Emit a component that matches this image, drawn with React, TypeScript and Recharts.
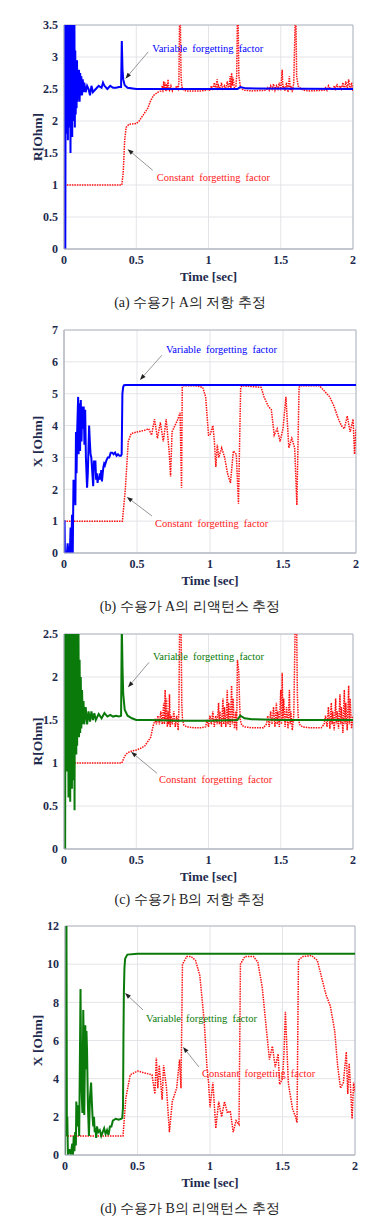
import React from 'react';
import { LineChart, Line, XAxis, YAxis, CartesianGrid, ReferenceLine, ReferenceArea } from 'recharts';

// ---------- shared ----------
const xTicks = [0, 0.5, 1, 1.5, 2];
const xTickLabels = ['0', '0.5', '1', '1.5', '2'];

// ---------- (a) customer A resistance ----------
const aTicks = [0, 0.5, 1, 1.5, 2, 2.5, 3, 3.5];
const aVariable: number[][] = [
  [0, 0], [0.003, 3.6], [0.006, 0], [0.009, 0], [0.012, 3.6], [0.015, 1.8], [0.018, 3.2], [0.021, 2.0],
  [0.024, 3.6], [0.027, 1.7], [0.03, 3.2], [0.033, 2.2], [0.036, 3.6], [0.039, 1.9], [0.042, 3.4],
  [0.045, 1.5], [0.048, 3.6], [0.051, 2.1], [0.054, 3.3], [0.057, 1.75], [0.06, 3.6], [0.063, 2.0],
  [0.066, 3.0], [0.069, 2.2], [0.072, 3.6], [0.075, 1.9], [0.078, 3.1], [0.081, 2.1], [0.084, 2.9],
  [0.087, 2.2], [0.09, 2.95], [0.093, 2.3], [0.096, 2.8], [0.1, 2.35], [0.104, 2.8], [0.108, 2.3],
  [0.112, 2.75], [0.116, 2.4], [0.12, 2.7], [0.125, 2.4], [0.13, 2.65], [0.135, 2.45], [0.14, 2.6],
  [0.15, 2.45], [0.16, 2.55], [0.17, 2.5], [0.18, 2.4], [0.19, 2.55], [0.2, 2.45], [0.22, 2.5],
  [0.24, 2.55], [0.26, 2.52], [0.27, 2.6], [0.28, 2.55], [0.3, 2.5], [0.32, 2.55], [0.34, 2.52],
  [0.36, 2.52], [0.38, 2.53], [0.395, 2.53], [0.4, 3.25], [0.405, 2.8], [0.41, 2.65], [0.42, 2.56],
  [0.44, 2.52], [0.5, 2.5], [1.2, 2.5], [1.22, 2.53], [1.26, 2.51], [2, 2.5],
];
const aConstant: number[][] = [
  [0.02, 1.0], [0.4, 1.0], [0.41, 1.2], [0.42, 1.7], [0.43, 1.9], [0.45, 1.95], [0.5, 1.96], [0.52, 2.0],
  [0.55, 2.1], [0.58, 2.2], [0.6, 2.32], [0.62, 2.4], [0.65, 2.45], [0.67, 2.47], [0.68, 2.55],
  [0.685, 2.45], [0.69, 2.62], [0.695, 2.5], [0.7, 2.6], [0.705, 2.46], [0.71, 2.58], [0.715, 2.48],
  [0.72, 2.65], [0.725, 2.5], [0.73, 2.48], [0.74, 2.55], [0.75, 2.47], [0.76, 2.52], [0.77, 2.5],
  [0.78, 2.55], [0.79, 2.5], [0.795, 2.6], [0.8, 3.6], [0.805, 3.6], [0.81, 2.7], [0.815, 2.55],
  [0.82, 2.5], [0.83, 2.48], [0.85, 2.47], [0.9, 2.47], [0.95, 2.47], [0.98, 2.48], [1.0, 2.5],
  [1.01, 2.47], [1.02, 2.55], [1.03, 2.48], [1.04, 2.6], [1.05, 2.5], [1.06, 2.65], [1.065, 2.48],
  [1.07, 2.55], [1.08, 2.5], [1.09, 2.6], [1.1, 2.48], [1.11, 2.55], [1.12, 2.5], [1.13, 2.62],
  [1.14, 2.48], [1.15, 2.7], [1.155, 2.5], [1.16, 2.75], [1.165, 2.55], [1.17, 2.68], [1.18, 2.5],
  [1.19, 2.55], [1.195, 2.7], [1.2, 3.6], [1.205, 3.6], [1.21, 2.7], [1.22, 2.55], [1.23, 2.5],
  [1.25, 2.48], [1.3, 2.47], [1.4, 2.48], [1.41, 2.52], [1.42, 2.48], [1.43, 2.55], [1.44, 2.5],
  [1.45, 2.58], [1.46, 2.48], [1.47, 2.55], [1.48, 2.5], [1.49, 2.6], [1.5, 2.48], [1.51, 2.8],
  [1.515, 2.5], [1.52, 2.55], [1.53, 2.47], [1.54, 2.6], [1.55, 2.45], [1.56, 2.7], [1.565, 2.48],
  [1.57, 2.55], [1.58, 2.45], [1.59, 2.6], [1.6, 3.6], [1.605, 3.6], [1.61, 2.7], [1.62, 2.55],
  [1.64, 2.5], [1.66, 2.48], [1.7, 2.47], [1.8, 2.48], [1.81, 2.52], [1.82, 2.48], [1.83, 2.55],
  [1.84, 2.5], [1.85, 2.52], [1.86, 2.48], [1.87, 2.55], [1.88, 2.5], [1.89, 2.58], [1.9, 2.48],
  [1.91, 2.55], [1.92, 2.5], [1.93, 2.6], [1.94, 2.48], [1.95, 2.62], [1.96, 2.5], [1.97, 2.65],
  [1.98, 2.48], [1.99, 2.6], [2.0, 2.47],
];

// ---------- (b) customer A reactance ----------
const bTicks = [0, 1, 2, 3, 4, 5, 6, 7];
const bVariable: number[][] = [
  [0, 1.0], [0.004, 1.0], [0.006, 0], [0.02, 0], [0.025, 0.3], [0.03, 0], [0.035, 0.2], [0.04, 0],
  [0.045, 0.8], [0.05, 0], [0.055, 1.2], [0.06, 0], [0.065, 2.3], [0.07, 1.6], [0.075, 2.3],
  [0.078, 1.5], [0.082, 3.8], [0.086, 2.5], [0.09, 3.8], [0.097, 4.9], [0.1, 3.1], [0.105, 4.7],
  [0.11, 3.2], [0.115, 4.8], [0.12, 3.5], [0.125, 4.6], [0.13, 3.9], [0.135, 4.6], [0.14, 3.4],
  [0.145, 4.5], [0.15, 3.0], [0.158, 2.05], [0.163, 2.5], [0.172, 4.0], [0.177, 3.5], [0.182, 3.1],
  [0.187, 3.0], [0.2, 2.1], [0.205, 2.9], [0.21, 2.6], [0.215, 2.9], [0.22, 2.3], [0.225, 2.5],
  [0.23, 2.2], [0.235, 2.4], [0.24, 2.3], [0.245, 2.5], [0.25, 2.3], [0.255, 2.6], [0.26, 2.25],
  [0.265, 2.5], [0.27, 2.7], [0.275, 2.8], [0.28, 2.75], [0.29, 2.9], [0.3, 3.0], [0.31, 3.0],
  [0.32, 3.15], [0.33, 3.15], [0.34, 3.1], [0.35, 3.15], [0.36, 3.05], [0.37, 3.1], [0.38, 3.05],
  [0.39, 3.05], [0.395, 3.1], [0.4, 5.0], [0.405, 5.2], [0.41, 5.26], [0.42, 5.27], [2.0, 5.27],
];
const bConstant: number[][] = [
  [0, 1.0], [0.4, 1.0], [0.42, 2.0], [0.44, 3.5], [0.46, 3.75], [0.5, 3.8], [0.55, 3.85], [0.58, 3.9],
  [0.6, 3.7], [0.62, 4.2], [0.64, 3.6], [0.66, 4.1], [0.68, 3.5], [0.7, 4.2], [0.72, 3.2], [0.73, 2.4],
  [0.74, 3.8], [0.76, 4.0], [0.78, 4.2], [0.795, 4.4], [0.805, 2.05], [0.81, 5.2], [0.82, 5.25],
  [0.9, 5.25], [0.95, 5.2], [0.97, 4.9], [0.98, 4.3], [0.99, 3.7], [1.0, 3.7], [1.02, 4.0], [1.03, 3.5],
  [1.04, 2.7], [1.05, 3.4], [1.06, 3.0], [1.08, 3.3], [1.1, 3.0], [1.12, 2.5], [1.14, 2.2], [1.16, 3.2],
  [1.18, 3.1], [1.195, 1.55], [1.21, 5.2], [1.22, 5.25], [1.35, 5.2], [1.37, 4.9], [1.4, 4.6],
  [1.42, 4.5], [1.44, 3.7], [1.46, 3.9], [1.48, 3.5], [1.5, 3.9], [1.52, 4.9], [1.54, 3.3], [1.56, 3.6],
  [1.58, 3.3], [1.595, 1.5], [1.61, 5.2], [1.62, 5.25], [1.75, 5.25], [1.78, 5.1], [1.82, 4.9],
  [1.85, 4.6], [1.88, 4.2], [1.9, 4.0], [1.92, 3.9], [1.94, 4.3], [1.96, 3.8], [1.98, 4.2], [1.99, 3.1],
  [2.0, 3.9],
];

// ---------- (c) customer B resistance ----------
const cTicks = [0, 0.5, 1, 1.5, 2, 2.5];
const cVariable: number[][] = [
  [0, 2.6], [0.004, 0], [0.008, 0], [0.01, 2.6], [0.013, 1.0], [0.016, 2.4], [0.019, 0.9], [0.022, 2.6],
  [0.025, 1.2], [0.028, 2.2], [0.031, 0.6], [0.034, 2.6], [0.037, 1.1], [0.04, 2.3], [0.043, 0.55],
  [0.046, 2.6], [0.049, 0.9], [0.052, 2.5], [0.055, 0.7], [0.058, 2.6], [0.061, 1.0], [0.064, 2.6],
  [0.067, 0.8], [0.07, 2.3], [0.073, 0.45], [0.076, 2.6], [0.079, 1.2], [0.082, 2.4], [0.085, 1.1],
  [0.088, 2.6], [0.091, 1.2], [0.094, 2.3], [0.097, 1.3], [0.1, 2.6], [0.104, 1.3], [0.108, 2.2],
  [0.112, 1.35], [0.116, 2.0], [0.12, 1.4], [0.125, 1.85], [0.13, 1.45], [0.135, 1.72], [0.14, 1.45],
  [0.15, 1.65], [0.16, 1.45], [0.17, 1.6], [0.18, 1.48], [0.19, 1.6], [0.2, 1.5], [0.21, 1.58],
  [0.22, 1.5], [0.24, 1.57], [0.26, 1.52], [0.28, 1.58], [0.3, 1.54], [0.32, 1.56], [0.34, 1.54],
  [0.36, 1.55], [0.38, 1.54], [0.395, 1.55], [0.4, 2.6], [0.405, 2.1], [0.41, 1.8], [0.42, 1.62],
  [0.44, 1.55], [0.47, 1.52], [0.5, 1.5], [0.6, 1.5], [0.8, 1.49], [1.0, 1.49], [1.2, 1.5],
  [1.22, 1.55], [1.25, 1.52], [1.3, 1.51], [1.5, 1.5], [2.0, 1.5],
];
const cConstant: number[][] = [
  [0.02, 1.0], [0.4, 1.0], [0.42, 1.08], [0.44, 1.12], [0.47, 1.14], [0.5, 1.15], [0.53, 1.17],
  [0.56, 1.2], [0.58, 1.25], [0.6, 1.3], [0.61, 1.38], [0.62, 1.45], [0.63, 1.5], [0.64, 1.45],
  [0.65, 1.55], [0.66, 1.45], [0.67, 1.6], [0.68, 1.45], [0.69, 1.7], [0.695, 1.45], [0.7, 1.85],
  [0.705, 1.5], [0.71, 1.75], [0.715, 1.42], [0.72, 1.6], [0.725, 1.45], [0.73, 1.8], [0.735, 1.42],
  [0.74, 1.55], [0.75, 1.45], [0.76, 1.6], [0.77, 1.42], [0.78, 1.55], [0.79, 1.38], [0.795, 1.6],
  [0.8, 2.6], [0.81, 2.6], [0.815, 1.7], [0.82, 1.5], [0.83, 1.44], [0.85, 1.42], [0.9, 1.41],
  [0.95, 1.41], [0.98, 1.42], [0.99, 1.5], [1.0, 1.42], [1.01, 1.55], [1.02, 1.45], [1.03, 1.6],
  [1.04, 1.42], [1.05, 1.55], [1.06, 1.45], [1.07, 1.7], [1.075, 1.45], [1.08, 1.6], [1.09, 1.42],
  [1.1, 1.75], [1.105, 1.45], [1.11, 1.65], [1.12, 1.42], [1.13, 1.85], [1.135, 1.45], [1.14, 1.7],
  [1.15, 1.42], [1.16, 1.9], [1.165, 1.45], [1.17, 1.75], [1.18, 1.4], [1.19, 1.6], [1.195, 1.38],
  [1.2, 2.2], [1.21, 2.05], [1.215, 1.7], [1.22, 1.5], [1.23, 1.44], [1.25, 1.42], [1.3, 1.41],
  [1.38, 1.41], [1.4, 1.45], [1.41, 1.55], [1.42, 1.42], [1.43, 1.6], [1.44, 1.45], [1.45, 1.65],
  [1.46, 1.42], [1.47, 1.7], [1.475, 1.45], [1.48, 1.6], [1.49, 1.42], [1.5, 1.85], [1.505, 1.45],
  [1.51, 2.05], [1.515, 1.5], [1.52, 1.75], [1.53, 1.42], [1.54, 1.65], [1.55, 1.4], [1.56, 1.85],
  [1.565, 1.45], [1.57, 1.6], [1.58, 1.38], [1.59, 1.55], [1.6, 2.6], [1.61, 2.6], [1.615, 1.8],
  [1.62, 1.55], [1.63, 1.45], [1.65, 1.42], [1.7, 1.41], [1.78, 1.41], [1.8, 1.45], [1.81, 1.55],
  [1.82, 1.42], [1.83, 1.65], [1.84, 1.4], [1.85, 1.7], [1.855, 1.45], [1.86, 1.6], [1.87, 1.38],
  [1.88, 1.75], [1.885, 1.45], [1.89, 1.6], [1.9, 1.4], [1.91, 1.8], [1.915, 1.45], [1.92, 1.65],
  [1.93, 1.35], [1.94, 1.85], [1.945, 1.45], [1.95, 1.7], [1.96, 1.38], [1.97, 1.9], [1.975, 1.45],
  [1.98, 1.75], [1.99, 1.4], [2.0, 1.55],
];

// ---------- (d) customer B reactance ----------
const dTicks = [0, 2, 4, 6, 8, 10, 12];
const dVariable: number[][] = [
  [0, 0], [0.005, 12.5], [0.01, 12.5], [0.013, 1.0], [0.016, 2], [0.02, 0], [0.03, 0.3], [0.04, 0],
  [0.05, 0.6], [0.055, 0], [0.06, 1.0], [0.065, 0.2], [0.07, 1.2], [0.075, 0.5], [0.078, 2.8],
  [0.085, 1.5], [0.09, 2.6], [0.098, 1.0], [0.107, 8.7], [0.112, 4.0], [0.116, 3.0], [0.12, 2.2],
  [0.126, 7.6], [0.13, 5.5], [0.133, 2.1], [0.14, 6.8], [0.145, 4.5], [0.148, 6.5], [0.152, 5.5],
  [0.158, 2.6], [0.165, 1.0], [0.172, 3.0], [0.18, 3.8], [0.185, 2.8], [0.19, 2.0], [0.195, 1.5],
  [0.2, 2.0], [0.205, 1.2], [0.21, 1.4], [0.215, 0.9], [0.22, 1.5], [0.23, 1.2], [0.24, 1.3],
  [0.25, 1.0], [0.26, 1.2], [0.27, 1.4], [0.28, 1.1], [0.29, 1.3], [0.3, 1.05], [0.31, 1.5],
  [0.32, 1.5], [0.33, 1.8], [0.35, 1.9], [0.37, 1.85], [0.39, 1.9], [0.395, 1.95], [0.4, 2.5],
  [0.403, 6.0], [0.406, 8.5], [0.41, 9.8], [0.415, 10.3], [0.43, 10.5], [0.5, 10.55], [2.0, 10.55],
];
const dConstant: number[][] = [
  [0, 1.0], [0.4, 1.0], [0.42, 3.0], [0.45, 4.2], [0.5, 4.4], [0.55, 4.3], [0.6, 4.2], [0.62, 3.2],
  [0.63, 5.1], [0.64, 3.5], [0.65, 4.7], [0.67, 2.9], [0.68, 4.7], [0.7, 3.5], [0.72, 1.2], [0.74, 2.8],
  [0.77, 3.5], [0.79, 5.0], [0.8, 3.5], [0.81, 10.0], [0.84, 10.4], [0.87, 10.4], [0.9, 10.2],
  [0.93, 9.4], [0.96, 7.0], [0.98, 4.5], [0.99, 3.8], [1.0, 2.5], [1.02, 3.8], [1.04, 1.4], [1.06, 2.8],
  [1.08, 2.0], [1.1, 2.8], [1.12, 2.2], [1.14, 2.3], [1.16, 1.2], [1.18, 1.8], [1.2, 1.6], [1.21, 10.0],
  [1.24, 10.4], [1.3, 10.4], [1.33, 10.1], [1.36, 8.8], [1.39, 6.5], [1.41, 5.0], [1.43, 5.7],
  [1.45, 4.6], [1.47, 5.3], [1.48, 3.7], [1.5, 4.0], [1.51, 5.3], [1.52, 7.5], [1.54, 3.8], [1.55, 3.3],
  [1.57, 2.4], [1.59, 2.0], [1.6, 1.7], [1.61, 10.2], [1.64, 10.4], [1.7, 10.45], [1.74, 10.2],
  [1.77, 9.3], [1.8, 8.4], [1.83, 7.8], [1.86, 6.5], [1.88, 4.7], [1.9, 3.5], [1.92, 3.8], [1.94, 5.4],
  [1.95, 3.2], [1.96, 4.8], [1.97, 3.4], [1.98, 1.9], [1.99, 3.8], [2.0, 3.3],
];

// ---------- labels ----------
const variableLabel = 'Variable forgetting factor';
const constantLabel = 'Constant forgetting factor';
const captions = ['(a) 수용가 A의 저항 추정', '(b) 수용가 A의 리액턴스 추정', '(c) 수용가 B의 저항 추정', '(d) 수용가 B의 리액턴스 추정'];

const toPts = (arr: number[][]) => arr.map(([t, v]) => ({ t, v }));

const NAVY = '#1e2a4e';
const SERIF = '"Liberation Serif", "Times New Roman", serif';

type Ann = { from: [number, number]; to: [number, number]; text: string; color: string; dx: number; dy: number };

const arrowShape = (a: Ann) => (props: any) => {
  const { x1, y1, x2, y2 } = props;
  if ([x1, y1, x2, y2].some((v) => typeof v !== 'number' || isNaN(v))) return <g />;
  const ang = Math.atan2(y2 - y1, x2 - x1);
  const L = 6, W = 2.2;
  const bx = x2 - L * Math.cos(ang), by = y2 - L * Math.sin(ang);
  const p1 = `${x2},${y2}`;
  const p2 = `${bx + W * Math.sin(ang)},${by - W * Math.cos(ang)}`;
  const p3 = `${bx - W * Math.sin(ang)},${by + W * Math.cos(ang)}`;
  return (
    <g>
      <line x1={x1} y1={y1} x2={bx} y2={by} stroke="#8a8a8a" strokeWidth={0.9} />
      <polygon points={`${p1} ${p2} ${p3}`} fill="#222" />
      <text x={x1 + a.dx} y={y1 + a.dy} fill={a.color} fontFamily={SERIF} fontSize={10.5} style={{ wordSpacing: 2.5 }}>
        {a.text}
      </text>
    </g>
  );
};

const YLab = (text: string) => (props: any) => {
  const vb = props.viewBox || {};
  const cx = (vb.x || 0) + 37;
  const cy = (vb.y || 0) + (vb.height || 0) / 2;
  return (
    <text x={cx} y={cy} transform={`rotate(-90 ${cx} ${cy})`} textAnchor="middle" dominantBaseline="central" fill={NAVY} fontFamily={SERIF} fontWeight="bold" fontSize={13.5}>
      {text}
    </text>
  );
};

const XLab = (props: any) => {
  const vb = props.viewBox || {};
  const cx = (vb.x || 0) + (vb.width || 0) / 2;
  const cy = (vb.y || 0) + 27;
  return (
    <text x={cx} y={cy} textAnchor="middle" dominantBaseline="central" fill={NAVY} fontFamily={SERIF} fontWeight="bold" fontSize={13}>
      Time [sec]
    </text>
  );
};

type PanelProps = {
  top: number; marginTop: number; plotH: number; yWidth: number; marginRight: number;
  yMax: number; yTicks: number[]; yLabel: string;
  variable: number[][]; constant: number[][]; varColor: string; anns: Ann[];
};

const Panel = (p: PanelProps) => {
  const height = p.marginTop + p.plotH + 40;
  const tickStyle = { fill: NAVY, fontFamily: SERIF, fontWeight: 'bold' as const, fontSize: 12 };
  return (
    <div style={{ position: 'absolute', left: 0, top: p.top, width: 376, height }}>
      <LineChart width={376} height={height} margin={{ top: p.marginTop, right: p.marginRight, bottom: 0, left: 0 }}>
        <CartesianGrid stroke="#e4e4e8" strokeWidth={1} />
        <XAxis
          dataKey="t" type="number" domain={[0, 2]} ticks={xTicks} tickFormatter={(v: number) => xTickLabels[xTicks.indexOf(v)] ?? String(v)}
          allowDataOverflow height={40} tickLine={false} tickSize={0} tickMargin={6} axisLine={{ stroke: '#b4b8c4' }}
          tick={tickStyle} interval={0} label={XLab}
        />
        <YAxis
          dataKey="v" type="number" domain={[0, p.yMax]} ticks={p.yTicks} allowDataOverflow width={p.yWidth}
          tickLine={false} tickSize={0} tickMargin={6} axisLine={{ stroke: '#b4b8c4' }} tick={tickStyle} interval={0}
          label={YLab(p.yLabel)}
        />
        <Line data={toPts(p.constant)} dataKey="v" type="linear" stroke="#ff1010" strokeWidth={1.5} strokeDasharray="1.5 1" dot={false} isAnimationActive={false} />
        <Line data={toPts(p.variable)} dataKey="v" type="linear" stroke={p.varColor} strokeWidth={2} dot={false} isAnimationActive={false} />
        <ReferenceArea x1={0} x2={2} y1={0} y2={p.yMax} fill="none" stroke="#b4b8c4" strokeWidth={1} ifOverflow="visible" />
        {p.anns.map((a, i) => (
          <ReferenceLine key={i} segment={[{ x: a.from[0], y: a.from[1] }, { x: a.to[0], y: a.to[1] }]} ifOverflow="visible" shape={arrowShape(a)} />
        ))}
      </LineChart>
    </div>
  );
};

const Caption = ({ top, text }: { top: number; text: string }) => (
  <div style={{ position: 'absolute', left: 0, top: top - 9, width: 380, textAlign: 'center', fontFamily: SERIF, fontSize: 14, color: '#222', lineHeight: '18px' }}>
    {text}
  </div>
);

export default function App() {
  const BLUE = '#0000ff';
  const GREEN = '#0a7a0a';
  const RED = '#ff1a1a';
  return (
    <div style={{ position: 'absolute', left: 0, top: 0, width: 376, height: 1227, background: '#fff' }}>
      <Panel top={0} marginTop={25} plotH={224} yWidth={64} marginRight={23} yMax={3.5} yTicks={aTicks} yLabel="R[Ohm]"
        variable={aVariable} constant={aConstant} varColor={BLUE}
        anns={[
          { from: [0.583, 3.08], to: [0.425, 2.66], text: variableLabel, color: BLUE, dx: 4, dy: 0 },
          { from: [0.614, 1.23], to: [0.44, 1.56], text: constantLabel, color: RED, dx: 4, dy: 11 },
        ]} />
      <Caption top={303} text={captions[0]} />
      <Panel top={310} marginTop={20} plotH={223} yWidth={64} marginRight={20} yMax={7} yTicks={bTicks} yLabel="X [Ohm]"
        variable={bVariable} constant={bConstant} varColor={BLUE}
        anns={[
          { from: [0.671, 6.21], to: [0.52, 5.43], text: variableLabel, color: BLUE, dx: 4, dy: -2 },
          { from: [0.603, 1.16], to: [0.43, 1.76], text: constantLabel, color: RED, dx: 3, dy: 11 },
        ]} />
      <Caption top={607} text={captions[1]} />
      <Panel top={615} marginTop={19} plotH={215} yWidth={64} marginRight={23} yMax={2.5} yTicks={cTicks} yLabel="R[Ohm]"
        variable={cVariable} constant={cConstant} varColor={GREEN}
        anns={[
          { from: [0.588, 2.17], to: [0.443, 1.88], text: variableLabel, color: GREEN, dx: 4, dy: -2 },
          { from: [0.644, 0.88], to: [0.464, 1.13], text: constantLabel, color: RED, dx: 2, dy: 10 },
        ]} />
      <Caption top={900} text={captions[2]} />
      <Panel top={910} marginTop={16} plotH={229} yWidth={65} marginRight={21} yMax={12} yTicks={dTicks} yLabel="X [Ohm]"
        variable={dVariable} constant={dConstant} varColor={GREEN}
        anns={[
          { from: [0.538, 7.6], to: [0.414, 8.49], text: variableLabel, color: GREEN, dx: 3, dy: 12 },
          { from: [0.924, 4.61], to: [0.814, 5.66], text: constantLabel, color: RED, dx: 3, dy: 10 },
        ]} />
      <Caption top={1209} text={captions[3]} />
    </div>
  );
}
